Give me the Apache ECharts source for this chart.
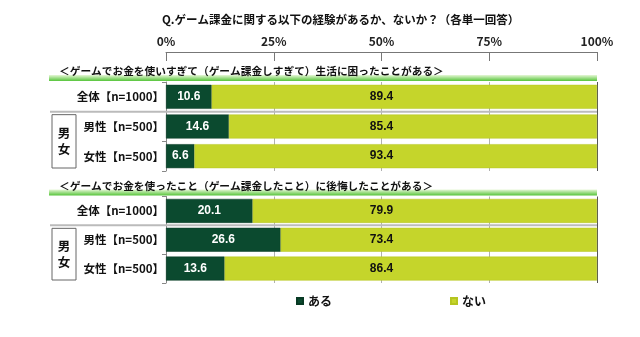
<!DOCTYPE html>
<html><head><meta charset="utf-8">
<script src="https://cdn.jsdelivr.net/npm/echarts@6/dist/echarts.min.js"></script>
<style>html,body{margin:0;padding:0;background:#fff}#c{width:640px;height:337px}</style>
</head><body><div id="c"></div>
<script>
const titleText = 'Q.ゲーム課金に関する以下の経験があるか、ないか？（各単一回答）';
const sectionTitles = ['＜ゲームでお金を使いすぎて（ゲーム課金しすぎて）生活に困ったことがある＞', '＜ゲームでお金を使ったこと（ゲーム課金したこと）に後悔したことがある＞'];
const categories = ['全体【n=1000】', '男性【n=500】', '女性【n=500】'];
const seriesNames = ['ある', 'ない'];
const aru1 = [10.6, 14.6, 6.6];
const nai1 = [89.4, 85.4, 93.4];
const aru2 = [20.1, 26.6, 13.6];
const nai2 = [79.9, 73.4, 86.4];
const xTickLabels = ['0%', '25%', '50%', '75%', '100%'];
const groupLabel = ['男', '女'];

const DARK = '#0b4a2f', LIGHT = '#c5d52b';
const JP = '"Noto Sans CJK JP", sans-serif';
const NUM = '"Liberation Sans", Arial, sans-serif';
const chart = echarts.init(document.getElementById('c'));

function naiData(aru, nai) {
  return nai.map((v, i) => ({
    value: v,
    label: { position: [((50 - aru[i]) / v * 100).toFixed(2) + '%', '50%'], align: 'center', verticalAlign: 'middle' }
  }));
}
const splitColors = ['#888', '#b0b0b0', '#b0b0b0', '#b0b0b0', '#555'];
function xAx(idx, first) {
  return {
    gridIndex: idx, type: 'value', min: 0, max: 100, interval: 25,
    position: 'top', offset: first ? 30 : 0,
    axisLine: { show: first, lineStyle: { color: '#777' } },
    axisTick: { show: first, inside: true, length: 9, lineStyle: { color: '#777' } },
    axisLabel: { show: first, formatter: v => xTickLabels[Math.round(v / 25)], fontFamily: JP, fontSize: 12, fontWeight: 'bold', color: '#222', margin: 5 },
    splitLine: { show: true, lineStyle: { color: splitColors, width: 1 } }
  };
}
function yAx(idx) {
  return {
    gridIndex: idx, type: 'category', data: categories, inverse: true,
    axisLine: { show: true, lineStyle: { color: '#888' } },
    axisTick: { show: true, length: 4, lineStyle: { color: '#888' } },
    axisLabel: { fontFamily: JP, fontSize: 11.5, fontWeight: 'bold', color: '#111', margin: 2 }
  };
}
const lblDark = { show: true, position: 'inside', color: '#fff', fontFamily: NUM, fontSize: 12, fontWeight: 'bold' };
const lblLight = { show: true, color: '#111', fontFamily: NUM, fontSize: 12, fontWeight: 'bold' };
function bars(idx, aru, nai) {
  return [
    { name: seriesNames[0], type: 'bar', xAxisIndex: idx, yAxisIndex: idx, stack: 's' + idx, data: aru, barWidth: 24,
      itemStyle: { color: DARK, borderColor: '#083a24', borderWidth: 0.5 }, label: lblDark },
    { name: seriesNames[1], type: 'bar', xAxisIndex: idx, yAxisIndex: idx, stack: 's' + idx, data: naiData(aru, nai), barWidth: 24,
      itemStyle: { color: LIGHT, borderColor: '#b5c520', borderWidth: 0.5 }, label: lblLight }
  ];
}
const grids = [
  { left: 166, right: 43, top: 82, height: 89 },
  { left: 166, right: 43, top: 196.5, height: 86.5 }
];
chart.setOption({
  animation: false,
  title: { text: titleText, left: 157, top: 9, textStyle: { fontFamily: JP, fontSize: 11.5, fontWeight: 'bold', color: '#111' } },
  legend: { data: seriesNames, left: 291, top: 290, icon: 'rect', itemWidth: 6, itemHeight: 6, itemGap: 118,
    textStyle: { fontFamily: JP, fontSize: 12, fontWeight: 'bold', color: '#111' } },
  grid: grids,
  xAxis: [xAx(0, true), xAx(1, false)],
  yAxis: [yAx(0), yAx(1)],
  series: [...bars(0, aru1, nai1), ...bars(1, aru2, nai2)]
});

// decorations positioned from the grid geometry
const g = [];
grids.forEach((gr, i) => {
  const y0 = chart.convertToPixel({ yAxisIndex: i }, categories[0]);
  const y1 = chart.convertToPixel({ yAxisIndex: i }, categories[1]);
  const sep = (y0 + y1) / 2;
  const xR = chart.convertToPixel({ xAxisIndex: i }, 100);
  const bottom = gr.top + gr.height;
  g.push({ type: 'rect', shape: { x: 49, y: gr.top - 7, width: xR - 49, height: 6 },
    style: { fill: new echarts.graphic.LinearGradient(0, 0, 0, 1, [{ offset: 0, color: '#e6f7d6' }, { offset: 1, color: '#56c43a' }]) }, z: 5 });
  g.push({ type: 'text', x: 59, y: gr.top - 11, style: { text: sectionTitles[i], font: 'bold 10.7px ' + JP, fill: '#111', verticalAlign: 'middle' }, z: 6 });
  g.push({ type: 'line', shape: { x1: 50, y1: sep, x2: xR, y2: sep }, style: { stroke: '#bbb', lineWidth: 2 }, z: 1 });
  const bTop = sep + 3, bBot = bottom - 3;
  g.push({ type: 'rect', shape: { x: 52, y: bTop, width: 24, height: bBot - bTop }, style: { fill: '#fff', stroke: '#666', lineWidth: 1 }, z: 5 });
  g.push({ type: 'text', x: 64, y: (bTop + bBot) / 2 - 8, style: { text: groupLabel[0], font: 'bold 12.5px ' + JP, fill: '#111', align: 'center', verticalAlign: 'middle' }, z: 6 });
  g.push({ type: 'text', x: 64, y: (bTop + bBot) / 2 + 8, style: { text: groupLabel[1], font: 'bold 12.5px ' + JP, fill: '#111', align: 'center', verticalAlign: 'middle' }, z: 6 });
});
chart.setOption({ graphic: g });
</script></body></html>
